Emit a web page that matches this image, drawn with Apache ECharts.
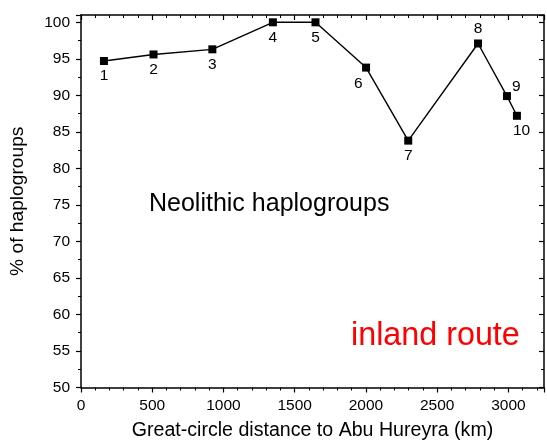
<!DOCTYPE html>
<html><head><meta charset="utf-8">
<script src="https://cdn.jsdelivr.net/npm/echarts@6/dist/echarts.min.js"></script>
<style>html,body{margin:0;padding:0;background:#fff}#c{width:547px;height:446px}</style>
</head><body><div id="c"></div>
<script>
var distances = [161, 509, 922, 1347, 1646, 2001, 2297, 2787, 2990, 3060];
var percents = [94.7, 95.6, 96.3, 100, 100, 93.8, 83.8, 97.1, 89.9, 87.2];
var pointLabels = ['1','2','3','4','5','6','7','8','9','10'];
var labelPositions = ['bottom','bottom','bottom','bottom','bottom','bottomLeft','bottom','top','right','bottomRight'];
var xTicks = [0, 500, 1000, 1500, 2000, 2500, 3000];
var yTicks = [50, 55, 60, 65, 70, 75, 80, 85, 90, 95, 100];

var FONT = 'Liberation Sans, Arial, sans-serif';
var chart = echarts.init(document.getElementById('c'));
var data = distances.map(function(d, i){
  var pos = labelPositions[i];
  var lab = {show:true, formatter: pointLabels[i], fontSize:15.5, color:'#000', fontFamily:FONT, distance:3};
  if (pos === 'bottomLeft') { lab.position = [-8, 12]; }
  else if (pos === 'bottomRight') { lab.position = [0, 11]; }
  else if (pos === 'right') { lab.position = [9, -13]; }
  else { lab.position = pos; }
  return {value:[d, percents[i]], label: lab};
});
var baseX = {type:'value', min:0, max:3250, interval:500,
  axisLine:{show:true, onZero:false, lineStyle:{color:'#000', width:1.5}}, splitLine:{show:false}};
var baseY = {type:'value', min:50, max:101, interval:5,
  axisLine:{show:true, onZero:false, lineStyle:{color:'#000', width:1.5}}, splitLine:{show:false}};
chart.setOption({
  animation:false,
  grid:{left:81, right:1, top:15, bottom:58.5},
  xAxis:[
    Object.assign({}, baseX, {position:'bottom',
      axisTick:{show:true, inside:false, length:5, lineStyle:{color:'#000', width:1.2}},
      minorTick:{show:true, splitNumber:5, length:3, lineStyle:{color:'#000', width:1}},
      axisLabel:{fontSize:15.5, color:'#000', fontFamily:FONT, margin:10,
        formatter:function(v){return xTicks.indexOf(v) >= 0 ? String(v) : '';}},
      name:'Great-circle distance to Abu Hureyra (km)', nameLocation:'middle', nameGap:33,
      nameTextStyle:{fontSize:19.6, color:'#000', fontFamily:FONT}}),
    Object.assign({}, baseX, {position:'top',
      axisTick:{show:true, inside:true, length:5, lineStyle:{color:'#000', width:1.2}},
      minorTick:{show:true, splitNumber:5, length:3, lineStyle:{color:'#000', width:1}},
      axisLabel:{show:false}})
  ],
  yAxis:[
    Object.assign({}, baseY, {position:'left',
      axisTick:{show:true, inside:false, length:5, lineStyle:{color:'#000', width:1.2}},
      minorTick:{show:true, splitNumber:2, length:3, lineStyle:{color:'#000', width:1}},
      axisLabel:{fontSize:15.5, color:'#000', fontFamily:FONT, margin:11,
        formatter:function(v){return yTicks.indexOf(v) >= 0 ? String(v) : '';}},
      name:'% of haplogroups', nameLocation:'middle', nameGap:54, nameRotate:90,
      nameTextStyle:{fontSize:19.2, color:'#000', fontFamily:FONT}}),
    Object.assign({}, baseY, {position:'right',
      axisTick:{show:true, inside:true, length:5, lineStyle:{color:'#000', width:1.2}},
      minorTick:{show:true, splitNumber:2, length:3, lineStyle:{color:'#000', width:1}},
      axisLabel:{show:false}})
  ],
  graphic:[
    {type:'text', left:149, top:192, style:{text:'Neolithic haplogroups', fontSize:25, fill:'#000', fontFamily:FONT}},
    {type:'text', left:351, top:320, style:{text:'inland route', fontSize:32.3, fill:'#ff0000', fontFamily:FONT}}
  ],
  series:[{
    type:'line', xAxisIndex:0, yAxisIndex:0, data:data,
    symbol:'rect', symbolSize:8, showAllSymbol:true,
    itemStyle:{color:'#000'}, lineStyle:{color:'#000', width:1.4}
  }]
});
</script></body></html>
